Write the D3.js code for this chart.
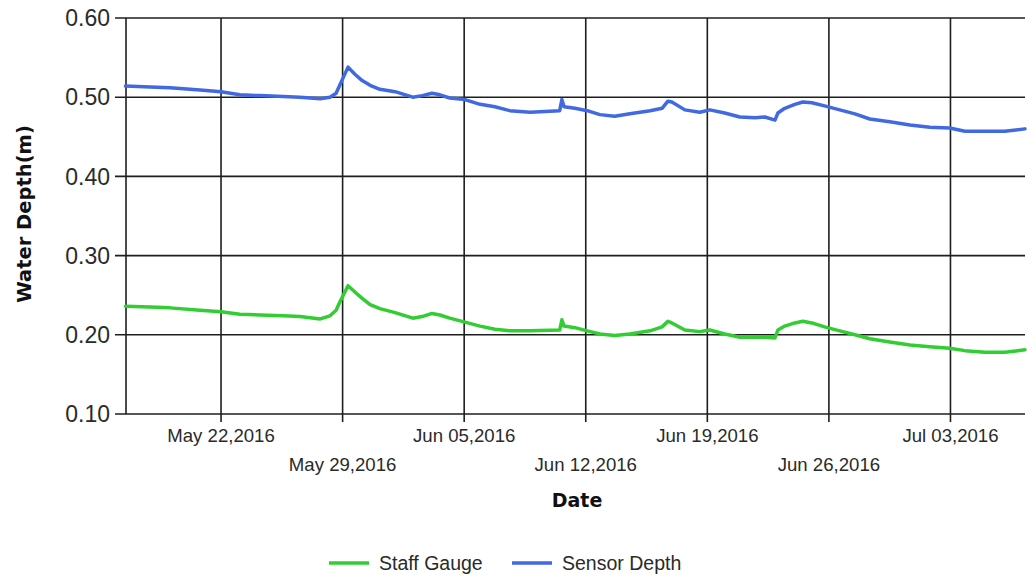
<!DOCTYPE html>
<html>
<head>
<meta charset="utf-8">
<script src="https://cdn.jsdelivr.net/npm/d3@7"></script>
<style>
  html, body { margin: 0; padding: 0; background: #fff; }
  svg { display: block; }
</style>
</head>
<body>
<svg id="chart" width="1027" height="577"></svg>
<script>
// ---- Data ----
const times = [
  "2016-05-16T12:00","2016-05-17T22:00","2016-05-19T01:30","2016-05-20T19:00","2016-05-22T00:00",
  "2016-05-23T02:00","2016-05-24T06:00","2016-05-25T14:00","2016-05-26T13:00","2016-05-27T17:00",
  "2016-05-28T06:30","2016-05-28T15:00","2016-05-28T20:00","2016-05-29T07:30","2016-05-29T17:00",
  "2016-05-30T03:00","2016-05-30T14:00","2016-05-31T03:30","2016-06-01T00:30","2016-06-02T01:00",
  "2016-06-02T14:00","2016-06-03T03:30","2016-06-03T14:30","2016-06-04T04:00","2016-06-05T01:00",
  "2016-06-05T22:00","2016-06-06T18:30","2016-06-07T15:00","2016-06-08T19:00","2016-06-10T12:00",
  "2016-06-10T15:00","2016-06-10T18:00","2016-06-11T09:00","2016-06-12T02:00","2016-06-12T19:30",
  "2016-06-13T16:00","2016-06-14T13:00","2016-06-15T17:00","2016-06-16T09:30","2016-06-16T17:30",
  "2016-06-16T23:00","2016-06-17T17:00","2016-06-18T13:30","2016-06-19T03:30","2016-06-20T00:00",
  "2016-06-20T21:00","2016-06-21T18:00","2016-06-22T07:30","2016-06-22T21:30","2016-06-23T01:30",
  "2016-06-23T11:00","2016-06-24T01:00","2016-06-24T12:00","2016-06-25T00:30","2016-06-25T18:00",
  "2016-06-26T15:00","2016-06-27T12:00","2016-06-28T08:30","2016-06-29T12:00","2016-06-30T16:00",
  "2016-07-01T19:30","2016-07-02T23:00","2016-07-03T20:00","2016-07-04T23:30","2016-07-06T03:00",
  "2016-07-07T07:00"
];
const sensorDepth = [
  0.514,0.513,0.512,0.509,0.507,
  0.503,0.502,0.501,0.500,0.498,
  0.500,0.505,0.515,0.538,0.529,
  0.521,0.515,0.510,0.507,0.500,
  0.502,0.505,0.503,0.499,0.497,
  0.491,0.488,0.483,0.481,0.483,
  0.497,0.488,0.486,0.483,0.478,
  0.476,0.479,0.483,0.486,0.495,
  0.494,0.484,0.481,0.484,0.480,
  0.475,0.474,0.475,0.471,0.480,
  0.486,0.491,0.494,0.493,0.489,
  0.484,0.479,0.4725,0.469,0.465,
  0.462,0.461,0.457,0.457,0.457,
  0.460
];
const staffGauge = [
  0.236,0.235,0.234,0.231,0.229,
  0.226,0.225,0.224,0.223,0.220,
  0.224,0.231,0.241,0.262,0.254,
  0.246,0.238,0.233,0.228,0.221,
  0.223,0.227,0.225,0.221,0.216,
  0.211,0.207,0.205,0.205,0.206,
  0.219,0.211,0.209,0.205,0.201,
  0.199,0.201,0.205,0.210,0.217,
  0.215,0.206,0.204,0.206,0.201,
  0.197,0.197,0.197,0.196,0.206,
  0.211,0.215,0.217,0.215,0.210,
  0.205,0.200,0.195,0.191,0.187,
  0.185,0.183,0.180,0.178,0.178,
  0.181
];
const xTickDates = ["2016-05-22","2016-05-29","2016-06-05","2016-06-12","2016-06-19","2016-06-26","2016-07-03"];
const xTickLabels = ["May 22,2016","May 29,2016","Jun 05,2016","Jun 12,2016","Jun 19,2016","Jun 26,2016","Jul 03,2016"];
const yTicks = [0.10, 0.20, 0.30, 0.40, 0.50, 0.60];
const seriesNames = ["Staff Gauge", "Sensor Depth"];
const seriesColors = ["#32cd32", "#4169e1"];
const xDomain = ["2016-05-16T12:40", "2016-07-07T07:00"];

(function () {
  // ---- Layout ----
  const svg = d3.select("#chart");
  const pLeft = 126, pRight = 1025, pTop = 18, pBottom = 414;
  const parseLocal = s => new Date(s.length === 10 ? s + "T00:00" : s);

  const x = d3.scaleTime()
    .domain(xDomain.map(parseLocal))
    .range([pLeft, pRight]);
  const y = d3.scaleLinear().domain([0.10, 0.60]).range([pBottom, pTop]);

  const gridColor = "#1e1e1e";

  // Horizontal gridlines
  svg.append("g").selectAll("line").data(yTicks).join("line")
    .attr("x1", pLeft - 11).attr("x2", pRight)
    .attr("y1", d => y(d)).attr("y2", d => y(d))
    .attr("stroke", gridColor).attr("stroke-width", 1.6);

  // Vertical gridlines
  const xt = xTickDates.map(parseLocal);
  svg.append("g").selectAll("line").data(xt).join("line")
    .attr("x1", d => x(d)).attr("x2", d => x(d))
    .attr("y1", pTop).attr("y2", pBottom + 8)
    .attr("stroke", gridColor).attr("stroke-width", 1.6);

  // Y axis line
  svg.append("line")
    .attr("x1", pLeft).attr("x2", pLeft).attr("y1", pTop).attr("y2", pBottom)
    .attr("stroke", gridColor).attr("stroke-width", 1.6);

  // Y tick labels
  svg.append("g").selectAll("text").data(yTicks).join("text")
    .attr("x", 110).attr("y", d => y(d))
    .attr("dy", "0.36em")
    .attr("text-anchor", "end")
    .attr("font-family", "Liberation Sans, Arial, sans-serif")
    .attr("font-size", 23)
    .attr("fill", "#2a2a2a")
    .text(d => d3.format(".2f")(d));

  // X tick labels (staggered)
  svg.append("g").selectAll("text").data(xt).join("text")
    .attr("x", d => x(d))
    .attr("y", (d, i) => i % 2 === 0 ? 442 : 471)
    .attr("text-anchor", "middle")
    .attr("font-family", "Liberation Sans, Arial, sans-serif")
    .attr("font-size", 18.6)
    .attr("fill", "#2a2a2a")
    .text((d, i) => xTickLabels[i]);

  // Axis titles
  svg.append("text")
    .attr("x", 577).attr("y", 507)
    .attr("text-anchor", "middle")
    .attr("font-family", "DejaVu Sans, Verdana, sans-serif")
    .attr("font-weight", "bold")
    .attr("font-size", 19)
    .attr("fill", "#111")
    .text("Date");

  svg.append("text")
    .attr("transform", "translate(31,214) rotate(-90)")
    .attr("text-anchor", "middle")
    .attr("font-family", "DejaVu Sans, Verdana, sans-serif")
    .attr("font-weight", "bold")
    .attr("font-size", 19.5)
    .attr("fill", "#111")
    .text("Water Depth(m)");

  // Lines
  const tdates = times.map(parseLocal);
  const line = d3.line()
    .x(d => x(d[0]))
    .y(d => y(d[1]));

  const series = [staffGauge, sensorDepth];
  series.forEach((vals, i) => {
    svg.append("path")
      .datum(tdates.map((t, j) => [t, vals[j]]))
      .attr("d", line)
      .attr("fill", "none")
      .attr("stroke", seriesColors[i])
      .attr("stroke-width", 3.5)
      .attr("stroke-linejoin", "round")
      .attr("stroke-linecap", "round");
  });

  // Legend
  const legendItems = [
    { x1: 329, tx: 379 },
    { x1: 512, tx: 562 }
  ];
  const lg = svg.append("g");
  seriesNames.forEach((name, i) => {
    lg.append("line")
      .attr("x1", legendItems[i].x1).attr("x2", legendItems[i].x1 + 40)
      .attr("y1", 563).attr("y2", 563)
      .attr("stroke", seriesColors[i]).attr("stroke-width", 3.5);
    lg.append("text")
      .attr("x", legendItems[i].tx).attr("y", 563)
      .attr("dy", "0.36em")
      .attr("font-family", "Liberation Sans, Arial, sans-serif")
      .attr("font-size", 19.5)
      .attr("fill", "#2a2a2a")
      .text(name);
  });
})();
</script>
</body>
</html>
